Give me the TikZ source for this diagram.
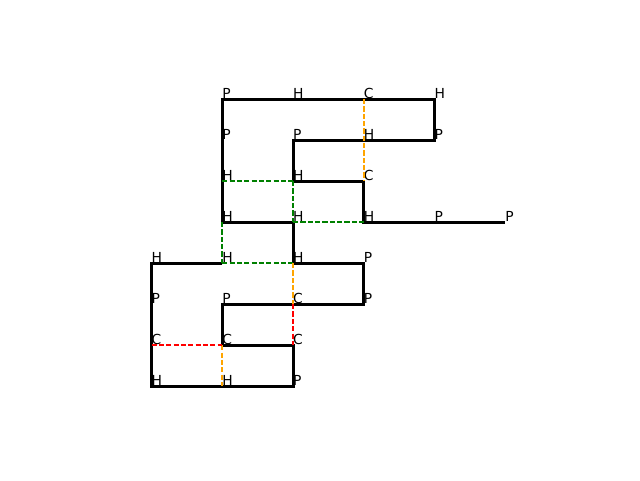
\documentclass[tikz,border=0pt]{standalone}
\usepackage{fontspec}
\setmainfont{DejaVu Sans}
\usepackage{tikz}
\usetikzlibrary{calc}

\definecolor{mplgreen}{RGB}{0,128,0}
\definecolor{mplorange}{RGB}{255,165,0}
\definecolor{mplred}{RGB}{255,0,0}

\begin{document}
\begin{tikzpicture}[x=1.798cm, y=1.0414cm,
    lbl/.style={anchor=base west, inner sep=0, outer sep=0, yshift=0.6pt, font=\fontsize{10}{12}\selectfont},
    chain/.style={line width=2.1pt, black},
    contact/.style={line width=1.2pt, dash pattern=on 3.7pt off 1.6pt}]
      \useasboundingbox (-2.14,-2.2924) rectangle (6.9,9.4176);

      \path (1,3) node[lbl] {H} coordinate (r1);
      \path (0,3) node[lbl] {H} coordinate (r2);
      \path (0,2) node[lbl] {P} coordinate (r3);
      \path (0,1) node[lbl] {C} coordinate (r4);
      \path (0,0) node[lbl] {H} coordinate (r5);
      \path (1,0) node[lbl] {H} coordinate (r6);
      \path (2,0) node[lbl] {P} coordinate (r7);
      \path (2,1) node[lbl] {C} coordinate (r8);
      \path (1,1) node[lbl] {C} coordinate (r9);
      \path (1,2) node[lbl] {P} coordinate (r10);
      \path (2,2) node[lbl] {C} coordinate (r11);
      \path (3,2) node[lbl] {P} coordinate (r12);
      \path (3,3) node[lbl] {P} coordinate (r13);
      \path (2,3) node[lbl] {H} coordinate (r14);
      \path (2,4) node[lbl] {H} coordinate (r15);
      \path (1,4) node[lbl] {H} coordinate (r16);
      \path (1,5) node[lbl] {H} coordinate (r17);
      \path (1,6) node[lbl] {P} coordinate (r18);
      \path (1,7) node[lbl] {P} coordinate (r19);
      \path (2,7) node[lbl] {H} coordinate (r20);
      \path (3,7) node[lbl] {C} coordinate (r21);
      \path (4,7) node[lbl] {H} coordinate (r22);
      \path (4,6) node[lbl] {P} coordinate (r23);
      \path (3,6) node[lbl] {H} coordinate (r24);
      \path (2,6) node[lbl] {P} coordinate (r25);
      \path (2,5) node[lbl] {H} coordinate (r26);
      \path (3,5) node[lbl] {C} coordinate (r27);
      \path (3,4) node[lbl] {H} coordinate (r28);
      \path (4,4) node[lbl] {P} coordinate (r29);
      \path (5,4) node[lbl] {P} coordinate (r30);

      \draw [chain] (r1)--(r2)--(r3)--(r4)--(r5)--(r6)--(r7)--(r8)--(r9)--(r10)
        --(r11)--(r12)--(r13)--(r14)--(r15)--(r16)--(r17)--(r18)--(r19)--(r20)
        --(r21)--(r22)--(r23)--(r24)--(r25)--(r26)--(r27)--(r28)--(r29)--(r30);

      % contacts
      \draw [contact, mplgreen] (r17)--(r26);
      \draw [contact, mplgreen] (r26)--(r15);
      \draw [contact, mplgreen] (r15)--(r28);
      \draw [contact, mplgreen] (r16)--(r1);
      \draw [contact, mplgreen] (r1)--(r14);
      \draw [contact, mplorange] (r21)--(r27);
      \draw [contact, mplorange] (r14)--(r11);
      \draw [contact, mplorange] (r9)--(r6);
      \draw [contact, mplred] (r11)--(r8);
      \draw [contact, mplred] (r4)--(r9);
    \end{tikzpicture}
\end{document}
